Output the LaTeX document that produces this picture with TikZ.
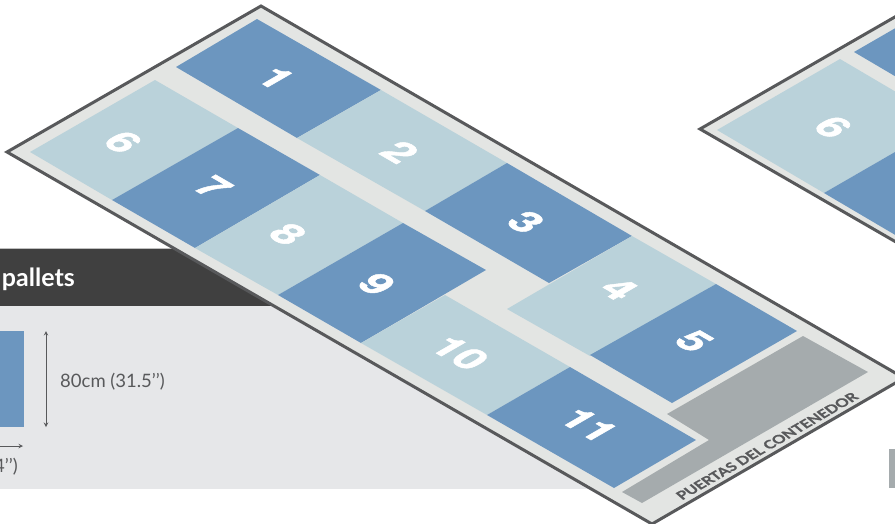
\documentclass[tikz,border=0pt]{standalone}
\usepackage{fontspec}
\setmainfont{Lato}
\newfontfamily\cifras{TeX Gyre Heros}[BoldFeatures={FakeBold=1.5}]
\newfontfamily\rotulos{Lato}[BoldFeatures={FakeBold=1}]
\usepackage{tikz}
\usetikzlibrary{positioning}

\definecolor{azulpallet}{HTML}{6C96BF}
\definecolor{claropallet}{HTML}{BAD2DA}
\definecolor{suelo}{HTML}{E3E5E3}
\definecolor{borde}{HTML}{58595B}
\definecolor{puertas}{HTML}{A5ABAD}
\definecolor{panel}{HTML}{E6E7E9}
\definecolor{cabecera}{HTML}{404040}

\tikzset{
	contenedor/.style={fill=suelo, draw=borde, line width=3pt, miter limit=20},
	numero/.style={text=white, font=\cifras\bfseries\fontsize{39}{39}\selectfont, inner sep=0pt, cm={0.95,-0.55,0.866,0.5,(0,0)}},
	medida/.style={text=borde, font=\fontsize{18.5}{20}\selectfont, inner sep=0pt},
	cota/.style={<->, >=stealth, line width=1pt, draw=borde}
}

\begin{document}
\begin{tikzpicture}[x=1pt, y=-1pt]
		\clip (0,0) rectangle (895,523);
		% Panel de medidas
		\fill[panel] (0,306) rectangle (640,489);
		\draw[line width=1pt, black!25] (0,248.5) -- (300,248.5);
		\fill[cabecera] (0,249) rectangle (300,306);
		\node[anchor=east, text=white, font=\bfseries\fontsize{25}{27}\selectfont, inner sep=0pt] (titulo) at (75,279) {pallets};
		\fill[azulpallet] (0,331) rectangle (24,427);
		\coordinate (altoA) at (46,331);
		\coordinate (altoB) at (46,427);
		\coordinate (anchoA) at (-10,446);
		\coordinate (anchoB) at (23,446);
		\draw[cota] (altoA) -- (altoB);
		\draw[cota] (anchoA) -- (anchoB);
		\node[medida, anchor=west] (alto) at (60,382) {80cm (31.5’’)};
		\node[medida, anchor=east] (ancho) at (18,467) {4’’)};
		% Contenedor de la derecha
		\draw[contenedor] (700,129) -- (954,-17) -- (1600,355) -- (1000,302) -- cycle;
		\fill[azulpallet] (854,52) -- (977,-19) -- (1084,44) -- (961,115) -- cycle;
		\fill[claropallet] (717,130) -- (840,59) -- (947,122) -- (824,193) -- cycle;
		\fill[azulpallet] (824,193) -- (947,122) -- (1054,185) -- (931,256) -- cycle;
		\node[numero] (dchaSeis) at (833,127) {6};
		% Contenedor de la izquierda
		\draw[contenedor] (261,6) -- (904,378) -- (652,524) -- (7,152) -- cycle;
		% Pallets
		\foreach \nombre/\tono/\a/\b/\c/\d/\tx/\ty in {
			1/azulpallet/{257,19}/{381,90}/{297,138}/{176,67}/276/78,
			2/claropallet/{381,90}/{507,163}/{425,211}/{297,138}/400/152,
			3/azulpallet/{507,163}/{632,236}/{549,283}/{425,211}/526/222,
			4/claropallet/{632,236}/{716,284}/{590,356}/{507,309}/619/289,
			5/azulpallet/{716,284}/{797,331}/{672,403}/{590,355}/694/341,
			6/claropallet/{155,80}/{238,128}/{112,200}/{30,152}/123/142,
			7/azulpallet/{238,128}/{320,175}/{195,248}/{112,200}/213/187,
			8/claropallet/{320,175}/{403,223}/{278,295}/{195,248}/288/234,
			9/azulpallet/{403,223}/{486,270}/{361,343}/{278,295}/377/284,
			10/claropallet/{445,295}/{570,367}/{487,415}/{361,343}/460/353,
			11/azulpallet/{570,367}/{696,440}/{614,488}/{487,415}/589/425}
		{
			\fill[\tono] (\a) -- (\b) -- (\c) -- (\d) -- cycle;
			\node[numero] (pallet\nombre) at (\tx,\ty) {\nombre};
		}
		% Zona de puertas
		\fill[puertas] (803,336) -- (868,372) -- (642,503) -- (622,492) -- (709,440) -- (667,414) -- cycle;
		\node[text=borde, font=\rotulos\bfseries\fontsize{15}{16}\selectfont, inner sep=0pt, cm={0.866,0.5,-0.7,0.6,(0,0)}] (rotulo) at (767,446) {PUERTAS DEL CONTENEDOR};
		% Resto a la derecha
		\fill[puertas] (889,449) rectangle (895,488);
	\end{tikzpicture}
\end{document}
